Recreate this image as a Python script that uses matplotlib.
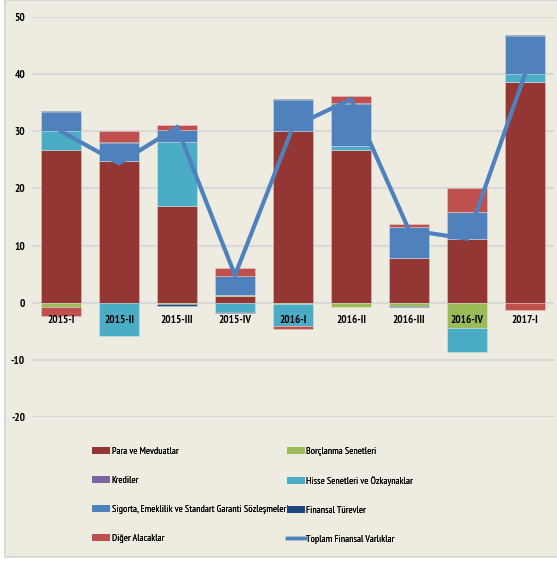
import matplotlib
matplotlib.use("Agg")
import matplotlib.pyplot as plt
import numpy as np
from matplotlib.patches import Patch, Rectangle
from matplotlib.lines import Line2D
from matplotlib import font_manager as fm

categories = ["2015-I", "2015-II", "2015-III", "2015-IV", "2016-I", "2016-II", "2016-III", "2016-IV", "2017-I"]

para = [26.7, 24.8, 17.0, 1.2, 30.1, 26.7, 7.9, 11.1, 38.7]
borclanma = [-0.7, 0.0, -0.3, 0.2, -0.2, -0.7, -0.5, -4.4, 0.0]
krediler = [0.0, 0.0, 0.0, 0.0, 0.0, 0.0, 0.0, 0.0, 0.0]
hisse = [3.3, -5.8, 11.1, -1.6, -3.8, 0.8, 0.0, -4.3, 1.3]
sigorta = [3.3, 3.1, 2.1, 3.3, 5.4, 7.3, 5.4, 4.8, 6.6]
turevler = [0.2, 0.2, -0.3, -0.2, 0.2, 0.2, -0.3, 0.0, 0.2]
diger = [-1.6, 2.0, 0.9, 1.3, -0.6, 1.1, 0.4, 4.1, -1.2]
toplam = [30.0, 24.4, 30.7, 4.8, 30.8, 35.6, 12.7, 11.2, 40.0]
yticks = [-20, -10, 0, 10, 20, 30, 40, 50]

series = [
    ("Para ve Mevduatlar", para, "#943634"),
    ("Borçlanma Senetleri", borclanma, "#9BBB59"),
    ("Krediler", krediler, "#8064A2"),
    ("Hisse Senetleri ve Özkaynaklar", hisse, "#4BACC6"),
    ("Sigorta, Emeklilik ve Standart Garanti Sözleşmeleri", sigorta, "#4F81BD"),
    ("Finansal Türevler", turevler, "#1F497D"),
    ("Diğer Alacaklar", diger, "#C0504D"),
]
total_name = "Toplam Finansal Varlıklar"
line_color = "#4F81BD"
bg = "#EEECE1"

installed = {f.name for f in fm.fontManager.ttflist}
prefs = ["PT Sans Narrow", "Roboto Condensed", "Open Sans Condensed", "Liberation Sans Narrow",
         "Archivo Narrow", "Liberation Sans"]
fam = next((p for p in prefs if p in installed), "DejaVu Sans")
narrow = fam != "Liberation Sans" and fam != "DejaVu Sans"
families = [fam, "DejaVu Sans"]
plt.rcParams["font.family"] = families
plt.rcParams["axes.unicode_minus"] = False

W, H = 557, 562
fig = plt.figure(figsize=(W / 100, H / 100), dpi=100)
fig.patch.set_facecolor("white")
fig.patches.append(Rectangle((5 / W, 1 - 557 / H), 1, 557 / H, transform=fig.transFigure,
                             facecolor=bg, edgecolor="#D4D4D4", linewidth=1.2, zorder=-5))

ax = fig.add_axes([32 / W, 1 - 417 / H, 522 / W, 400 / H])
ax.set_facecolor("none")
ax.set_axisbelow(False)

for yv in yticks:
    ax.axhline(yv, color="#D9D9D9", linewidth=1.6, zorder=0.5)

x = np.arange(len(categories))
pos_base = np.zeros(len(categories))
neg_base = np.zeros(len(categories))
handles = {}
for name, vals, col in series:
    v = np.array(vals)
    bottoms = np.where(v >= 0, pos_base, neg_base)
    ax.bar(x, v, width=0.7, bottom=bottoms, color=col, edgecolor=(1, 1, 1, 0.3),
           linewidth=0.6, zorder=2)
    pos_base += np.where(v >= 0, v, 0)
    neg_base += np.where(v < 0, v, 0)
    handles[name] = Patch(facecolor=col, edgecolor="none")

ax.plot(x, toplam, color=line_color, linewidth=3, zorder=4, solid_joinstyle="miter")
handles[total_name] = Line2D([0], [0], color=line_color, linewidth=2.5)

ax.set_xlim(-0.5, len(categories) - 0.5)
ax.set_ylim(-20, 50)
ax.set_yticks(yticks)
for s in ax.spines.values():
    s.set_visible(False)
ax.spines["bottom"].set_position(("data", 0))
ax.set_xticks(x)
ax.set_xticklabels(categories)
tsize = 8 if narrow else 6.5
ax.tick_params(axis="x", length=0, pad=9, labelsize=tsize, colors="black")
ax.tick_params(axis="y", length=0, pad=5, labelsize=tsize, colors="black")
for lab in ax.get_xticklabels() + ax.get_yticklabels():
    lab.set_fontweight("bold")
ax.xaxis.set_zorder(3)

lsize = 7.2 if narrow else 5.8
prop = fm.FontProperties(family=families, size=lsize)
col1 = ["Para ve Mevduatlar", "Krediler", "Sigorta, Emeklilik ve Standart Garanti Sözleşmeleri",
        "Diğer Alacaklar"]
col2 = ["Borçlanma Senetleri", "Hisse Senetleri ve Özkaynaklar", "Finansal Türevler", total_name]
for names, xpx in ((col1, 92), (col2, 287)):
    leg = fig.legend([handles[n] for n in names], names, loc="upper left",
                     bbox_to_anchor=(xpx / W, 1 - 447 / H), frameon=False, prop=prop,
                     handlelength=1.8, handleheight=0.7, handletextpad=0.15,
                     labelspacing=2.0, borderaxespad=0, borderpad=0)
    fig.add_artist(leg)

fig.savefig("out.png", dpi=100, facecolor=fig.get_facecolor())
